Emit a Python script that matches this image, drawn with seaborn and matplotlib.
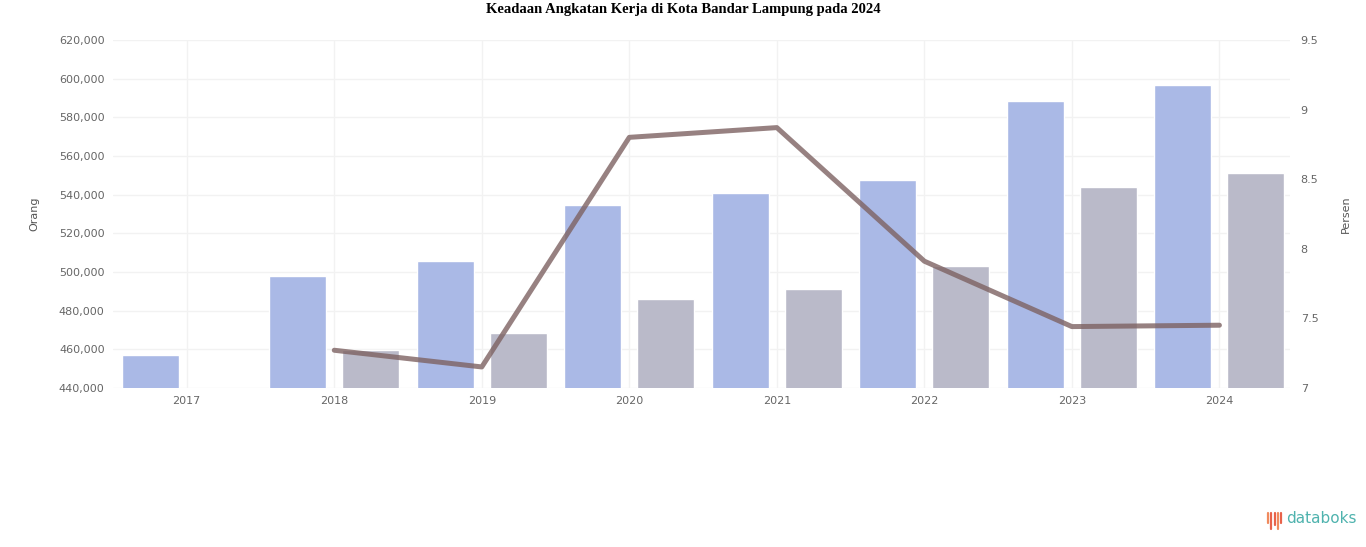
import numpy as np
import pandas as pd
import matplotlib
matplotlib.use("Agg")
import matplotlib.pyplot as plt
from matplotlib.lines import Line2D
import seaborn as sns

tahun = ["2017", "2018", "2019", "2020", "2021", "2022", "2023", "2024"]
angkatan_kerja = [457100, 497900, 505700, 534700, 540900, 547600, 588400, 596700]
bekerja = [np.nan, 459700, 468400, 486000, 491200, 503100, 544000, 551200]
tpt_tahun = ["2018", "2019", "2020", "2021", "2022", "2023", "2024"]
tpt = [7.27, 7.15, 8.80, 8.87, 7.91, 7.44, 7.45]

left_ticks = np.arange(440000, 620001, 20000)
right_ticks = [7, 7.5, 8, 8.5, 9, 9.5]

df = pd.DataFrame({
    "tahun": tahun * 2,
    "nilai": angkatan_kerja + bekerja,
    "seri": ["Angkatan Kerja"] * len(tahun) + ["Bekerja"] * len(tahun),
})

sns.set_style("white")
plt.rcParams["font.family"] = ["DejaVu Sans"]

fig = plt.figure(figsize=(13.66, 5.47), dpi=100)
ax = fig.add_axes([0.0827, 0.291, 0.8613, 0.636])

sns.barplot(data=df, x="tahun", y="nilai", hue="seri", order=tahun,
            palette=["#aab9e6", "#babac9"], width=0.99, gap=0.22,
            legend=False, ax=ax, saturation=1)
ax.set_ylim(left_ticks[0], left_ticks[-1])
ax.set_yticks(left_ticks)
ax.set_yticklabels([f"{v:,}" for v in left_ticks], fontsize=8, color="#666666")
ax.set_xlim(-0.50, 7.475)
ax.tick_params(axis="x", labelsize=8, colors="#666666", length=0, pad=6)
ax.tick_params(axis="y", length=0, pad=6)
ax.set_xlabel("")
ax.set_ylabel("Orang", fontsize=8, color="#555555", labelpad=14)
ax.grid(True, color="#f2f2f2", linewidth=1)
ax.set_axisbelow(True)
for s in ax.spines.values():
    s.set_visible(False)

ax2 = ax.twinx()
xpos = [tahun.index(t) for t in tpt_tahun]
sns.lineplot(x=xpos, y=tpt, ax=ax2, color="#7d6262", linewidth=3.6, alpha=0.8)
ax2.set_ylim(right_ticks[0], right_ticks[-1])
ax2.set_yticks(right_ticks)
ax2.set_yticklabels([f"{v:g}" for v in right_ticks], fontsize=8, color="#666666")
ax2.tick_params(axis="y", length=0, pad=8)
ax2.set_ylabel("Persen", fontsize=8, color="#555555", labelpad=16)
ax2.grid(False)
for s in ax2.spines.values():
    s.set_visible(False)

fig.text(0.5, 0.982, "Keadaan Angkatan Kerja di Kota Bandar Lampung pada 2024",
         ha="center", va="center", fontsize=10.5, fontweight="bold",
         family="Liberation Serif", color="black")

# databoks logo
fig.text(0.9415, 0.052, "databoks", ha="left", va="center", fontsize=11,
         color="#4fb3ae")
for i, (h, c) in enumerate([(0.018, "#f08a5d"), (0.03, "#e8624a"),
                            (0.022, "#e8624a"), (0.03, "#f08a5d"),
                            (0.018, "#e8624a")]):
    x = 0.9285 + i * 0.0023
    fig.add_artist(Line2D([x, x], [0.062 - h, 0.062], transform=fig.transFigure,
                          color=c, linewidth=1.6))

fig.savefig("out.png", dpi=100)
